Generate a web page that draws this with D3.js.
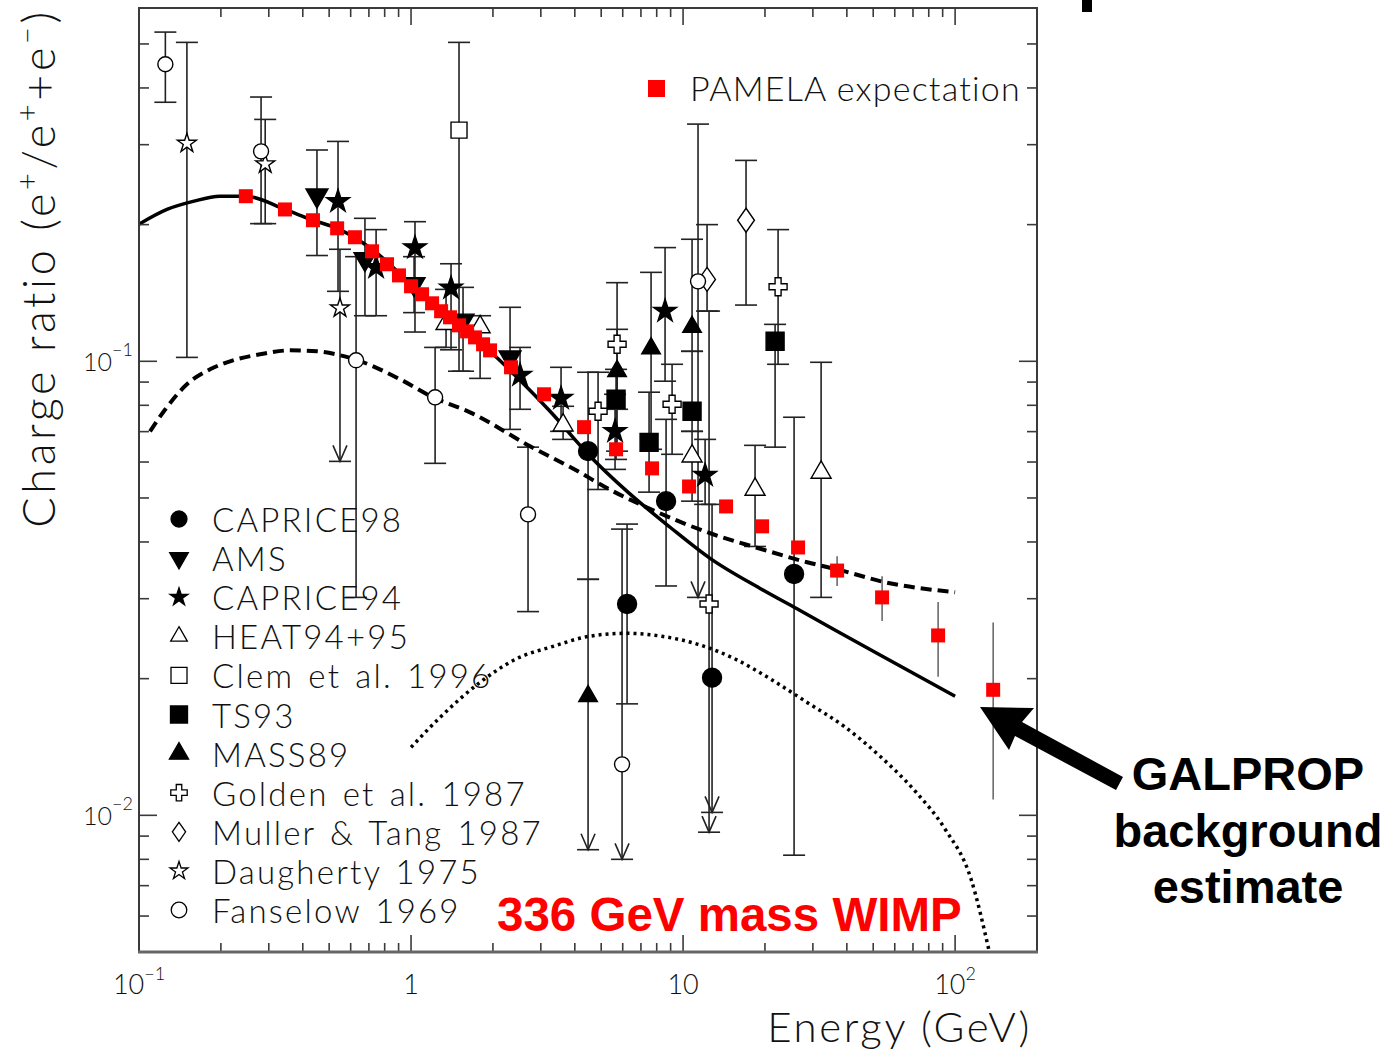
<!DOCTYPE html>
<html>
<head>
<meta charset="utf-8">
<script src="https://cdn.jsdelivr.net/npm/d3@7"></script>
<style>
body { margin: 0; background: #fff; }
.thin { font-family: Lato, "DejaVu Sans", sans-serif; font-weight: 300; fill: #111; }
.bold { font-family: "Liberation Sans", Arial, sans-serif; font-weight: bold; }
</style>
</head>
<body>
<svg id="chart" width="1391" height="1053"></svg>
<script>
// ---- data: [energy GeV, ratio, low, high, lowerLimitArrow]
const caprice98 = [
    [4.475, 0.0634, 0.0331, 0.0946],
    [6.225, 0.0292, 0.0176, 0.0438],
    [8.660, 0.0492, 0.0320, 0.0745],
    [12.78, 0.0201, 0.01015, 0.0484, 1],
    [25.59, 0.0340, 0.00817, 0.0753]
];
const ams = [
    [0.451, 0.232, 0.171, 0.292],
    [0.677, 0.168, 0.126, 0.2065],
    [1.026, 0.148, 0.128, 0.170],
    [1.553, 0.123, 0.0951, 0.1455],
    [2.312, 0.102, 0.0708, 0.1315]
];
const caprice94 = [
    [0.539, 0.225, 0.1426, 0.305],
    [0.744, 0.161, 0.126, 0.195],
    [1.034, 0.178, 0.116, 0.203],
    [1.403, 0.145, 0.106, 0.164],
    [2.516, 0.0932, 0.0784, 0.1073],
    [3.560, 0.0829, 0.0701, 0.0970],
    [5.623, 0.0701, 0.0578, 0.0846],
    [8.586, 0.129, 0.0904, 0.178],
    [12.05, 0.0561, 0.0484, 0.0673]
];
const heat = [
    [1.345, 0.121, 0.1073, 0.144],
    [1.794, 0.119, 0.0917, 0.126],
    [3.622, 0.0723, 0.0673, 0.0796],
    [10.79, 0.0618, 0.0492, 0.0701],
    [18.39, 0.0522, 0.0391, 0.0653],
    [32.17, 0.0569, 0.0302, 0.0995]
];
const clem = [
    [1.501, 0.323, 0.0951, 0.504]
];
const ts93 = [
    [5.671, 0.0825, 0.0608, 0.0960],
    [7.499, 0.0663, 0.0515, 0.0855],
    [10.79, 0.0776, 0.0701, 0.1052],
    [21.79, 0.1107, 0.0647, 0.1206]
];
const mass89 = [
    [4.475, 0.0183, 0.0084, 0.0331, 1],
    [5.720, 0.0951, 0.0634, 0.1176],
    [7.627, 0.1068, 0.0640, 0.157],
    [10.79, 0.119, 0.1052, 0.1857]
];
const golden = [
    [4.870, 0.0776, 0.0522, 0.0946],
    [5.720, 0.109, 0.0784, 0.149],
    [9.112, 0.0804, 0.0624, 0.0985],
    [22.35, 0.146, 0.0985, 0.195],
    [12.46, 0.0292, 0.00918, 0.129, 1]
];
const muller = [
    [17.04, 0.2045, 0.133, 0.277],
    [12.25, 0.1515, 0.129, 0.200]
];
const daugherty = [
    [0.150, 0.302, 0.102, 0.504],
    [0.291, 0.272, 0.201, 0.341],
    [0.548, 0.131, 0.0602, 0.1765, 1]
];
const fanselow = [
    [0.125, 0.451, 0.372, 0.531],
    [0.281, 0.290, 0.201, 0.382],
    [0.628, 0.1005, 0.0302, 0.170],
    [1.226, 0.0833, 0.0596, 0.1073],
    [2.692, 0.0460, 0.0281, 0.0647],
    [5.966, 0.01295, 0.0080, 0.0427, 1],
    [11.35, 0.150, 0.0302, 0.333, 1]
];

// PAMELA expectation
const pamelaE = [0.247, 0.344, 0.436, 0.535, 0.622, 0.719, 0.816, 0.903, 1.00, 1.098, 1.195, 1.290, 1.391, 1.501, 1.607, 1.719, 1.840, 1.952, 2.331, 3.083, 4.325, 5.671, 7.691, 10.52, 14.39, 19.52, 26.47, 36.83, 53.9, 86.6, 138];
const pamelaR = [0.231, 0.216, 0.2045, 0.1963, 0.1876, 0.1747, 0.1636, 0.1546, 0.1463, 0.1405, 0.1342, 0.1289, 0.1250, 0.1200, 0.1164, 0.1129, 0.1090, 0.1057, 0.0970, 0.0846, 0.0716, 0.0640, 0.0581, 0.0530, 0.0479, 0.0433, 0.0389, 0.0346, 0.0302, 0.0249, 0.0189];
const pamelaErr = [[36.83, 0.0320, 0.0372], [53.9, 0.0268, 0.0336], [86.6, 0.0202, 0.0295], [138, 0.01084, 0.0266]];

// GALPROP background (solid)
const bgE = [0.1, 0.1267, 0.158, 0.1985, 0.247, 0.344, 0.436, 0.535, 0.719, 1.00, 1.391, 1.952, 2.516, 3.243, 4.551, 6.225, 8.958, 12.57, 19.19, 26.03, 50.8, 100];
const bgR = [0.2004, 0.216, 0.225, 0.231, 0.231, 0.216, 0.2045, 0.1963, 0.1765, 0.148, 0.125, 0.1052, 0.0908, 0.0776, 0.0618, 0.0517, 0.0431, 0.0368, 0.0316, 0.02857, 0.02286, 0.0183];
// dashed curve
const dashE = [0.1098, 0.125, 0.150, 0.1824, 0.2216, 0.2786, 0.359, 0.451, 0.548, 0.637, 0.911, 1.205, 1.648, 2.739, 4.181, 5.125, 7.627, 12.89, 18.55, 28.57, 39.08, 53.0, 100];
const dashR = [0.0701, 0.0784, 0.0890, 0.0960, 0.1005, 0.1036, 0.1057, 0.1052, 0.1031, 0.1005, 0.0913, 0.0833, 0.0772, 0.0650, 0.0569, 0.0530, 0.0472, 0.0416, 0.0389, 0.0361, 0.0345, 0.0328, 0.0310];
// 336 GeV WIMP (dotted)
const wimpE = [1.00, 1.279, 1.794, 2.432, 3.328, 4.512, 6.121, 8.373, 11.35, 15.53, 21.06, 28.57, 39.08, 53.0, 71.9, 91.9, 114.5, 133.4];
const wimpR = [0.01412, 0.01644, 0.01963, 0.0221, 0.02356, 0.02479, 0.02517, 0.02479, 0.0238, 0.0221, 0.01993, 0.01773, 0.0157, 0.01349, 0.01124, 0.00932, 0.00723, 0.00502];

const legendNames = ['CAPRICE98', 'AMS', 'CAPRICE94', 'HEAT94+95', 'Clem et al. 1996', 'TS93', 'MASS89', 'Golden et al. 1987', 'Muller & Tang 1987', 'Daugherty 1975', 'Fanselow 1969'];
const xTickLabels = [['10', '\u22121'], ['1', ''], ['10', ''], ['10', '2']];
const yTickLabels = [['10', '\u22122'], ['10', '\u22121']];

// ---- setup
const svg = d3.select('#chart');
const x = d3.scaleLog().domain([0.1, 200]).range([139, 1037]);
const y = d3.scaleLog().domain([0.005, 0.6]).range([952, 8]);
const pLeft = 139, pRight = 1037, pTop = 8, pBottom = 952;

const tallDiamond = {
    draw(ctx, size) {
        const h = Math.sqrt(size) * 0.8, w = h * 0.7;
        ctx.moveTo(0, -h); ctx.lineTo(w, 0); ctx.lineTo(0, h); ctx.lineTo(-w, 0); ctx.closePath();
    }
};

// marker styles per series
const styles = {
    caprice98: { type: d3.symbolCircle, size: 283, fill: '#000', ls: 200 },
    ams: { type: d3.symbolTriangle, size: 209, fill: '#000', rot: 180, ls: 150 },
    caprice94: { type: d3.symbolStar, size: 165, fill: '#000', ls: 100 },
    heat: { type: d3.symbolTriangle, size: 173, fill: '#fff', ls: 120 },
    clem: { type: d3.symbolSquare, size: 256, fill: '#fff', ls: 256 },
    ts93: { type: d3.symbolSquare, size: 324, fill: '#000', ls: 290 },
    mass89: { type: d3.symbolTriangle, size: 150, fill: '#000', ls: 160 },
    golden: { type: d3.symbolCross, size: 180, fill: '#fff', ls: 150 },
    muller: { type: tallDiamond, size: 225, fill: '#fff', ls: 140 },
    daugherty: { type: d3.symbolStar, size: 112, fill: '#fff', ls: 100 },
    fanselow: { type: d3.symbolCircle, size: 177, fill: '#fff', ls: 190 }
};
const series = [
    ['caprice98', caprice98], ['ams', ams], ['caprice94', caprice94], ['heat', heat],
    ['clem', clem], ['ts93', ts93], ['mass89', mass89], ['golden', golden],
    ['muller', muller], ['daugherty', daugherty], ['fanselow', fanselow]
];

svg.append('defs').append('clipPath').attr('id', 'plotclip')
    .append('rect').attr('x', pLeft).attr('y', pTop).attr('width', pRight - pLeft).attr('height', pBottom - pTop);

// ---- error bars
const bars = svg.append('g').attr('stroke', '#222').attr('stroke-width', 1.6).attr('fill', 'none');
series.forEach(([name, data]) => {
    data.forEach(d => {
        const cx = x(d[0]), yl = y(d[2]), yh = y(d[3]);
        bars.append('line').attr('x1', cx).attr('x2', cx).attr('y1', yh).attr('y2', yl);
        bars.append('line').attr('x1', cx - 11).attr('x2', cx + 11).attr('y1', yh).attr('y2', yh);
        bars.append('line').attr('x1', cx - 11).attr('x2', cx + 11).attr('y1', yl).attr('y2', yl);
        if (d[4]) {
            bars.append('path').attr('d', `M${cx - 7},${yl - 16}L${cx},${yl}L${cx + 7},${yl - 16}`);
        }
    });
});
pamelaErr.forEach(d => {
    bars.append('line').attr('stroke', '#555').attr('stroke-width', 1.4)
        .attr('x1', x(d[0])).attr('x2', x(d[0])).attr('y1', y(d[2])).attr('y2', y(d[1]));
});

// ---- curves
const line = d3.line().x(d => x(d[0])).y(d => y(d[1])).curve(d3.curveMonotoneX);
const curves = svg.append('g').attr('clip-path', 'url(#plotclip)').attr('fill', 'none').attr('stroke', '#000');
curves.append('path').attr('d', line(d3.zip(bgE, bgR))).attr('stroke-width', 3.5);
curves.append('path').attr('d', line(d3.zip(dashE, dashR))).attr('stroke-width', 4).attr('stroke-dasharray', '11,6');
curves.append('path').attr('d', line(d3.zip(wimpE, wimpR))).attr('stroke-width', 3.5).attr('stroke-dasharray', '3,4');

// ---- markers
const sym = d3.symbol();
const marks = svg.append('g');
series.forEach(([name, data]) => {
    const s = styles[name];
    marks.selectAll(`.m-${name}`).data(data).enter().append('path')
        .attr('class', `m-${name}`)
        .attr('d', sym.type(s.type).size(s.size)())
        .attr('transform', d => `translate(${x(d[0])},${y(d[1])})` + (s.rot ? ` rotate(${s.rot})` : ''))
        .attr('fill', s.fill).attr('stroke', '#000').attr('stroke-width', 1.4);
});

// PAMELA squares
svg.append('g').selectAll('rect').data(d3.zip(pamelaE, pamelaR)).enter().append('rect')
    .attr('x', d => x(d[0]) - 7).attr('y', d => y(d[1]) - 7)
    .attr('width', 14).attr('height', 14).attr('fill', '#f00');

// ---- frame and ticks
const ax = svg.append('g').attr('stroke', '#3a3a3a').attr('stroke-width', 2);
ax.append('rect').attr('x', pLeft).attr('y', pTop).attr('width', pRight - pLeft).attr('height', pBottom - pTop).attr('fill', 'none');
const xMajor = [0.1, 1, 10, 100];
const xMinor = xMajor.flatMap(d => d3.range(2, 10).map(k => k * d)).filter(v => v < 200);
const yMajor = [0.01, 0.1];
const yMinor = [0.001, 0.01, 0.1].flatMap(d => d3.range(2, 10).map(k => k * d)).filter(v => v > 0.005 && v < 0.6);
xMajor.concat(xMinor).forEach(v => {
    const len = xMajor.includes(v) ? 17 : 9;
    if (v <= 0.1) return;
    ax.append('line').attr('stroke-width', 1.6).attr('x1', x(v)).attr('x2', x(v)).attr('y1', pBottom).attr('y2', pBottom - len);
    ax.append('line').attr('stroke-width', 1.6).attr('x1', x(v)).attr('x2', x(v)).attr('y1', pTop).attr('y2', pTop + len);
});
yMajor.concat(yMinor).forEach(v => {
    const len = yMajor.includes(v) ? 18 : 10;
    ax.append('line').attr('stroke-width', 1.6).attr('x1', pLeft).attr('x2', pLeft + len).attr('y1', y(v)).attr('y2', y(v));
    ax.append('line').attr('stroke-width', 1.6).attr('x1', pRight).attr('x2', pRight - len).attr('y1', y(v)).attr('y2', y(v));
});
svg.append('line').attr('x1', pLeft - 1).attr('x2', pRight + 1).attr('y1', pBottom).attr('y2', pBottom)
    .attr('stroke', '#666').attr('stroke-width', 3);

// tick labels
xMajor.forEach((v, i) => {
    const t = svg.append('text').attr('class', 'thin').attr('x', x(v)).attr('y', 994)
        .attr('text-anchor', 'middle').attr('font-size', 27).text(xTickLabels[i][0]);
    if (xTickLabels[i][1]) t.append('tspan').attr('dy', -14).attr('font-size', 18).text(xTickLabels[i][1]);
});
yMajor.forEach((v, i) => {
    const t = svg.append('text').attr('class', 'thin').attr('x', 133).attr('y', y(v) + 10)
        .attr('text-anchor', 'end').attr('font-size', 25).text(yTickLabels[i][0]);
    t.append('tspan').attr('dy', -15).attr('font-size', 18).text(yTickLabels[i][1]);
});

// axis titles
svg.append('text').attr('class', 'thin').attr('x', 1032).attr('y', 1042).attr('text-anchor', 'end')
    .attr('font-size', 42).attr('letter-spacing', 2.6).text('Energy (GeV)');
const yt = svg.append('text').attr('class', 'thin').attr('transform', 'translate(55,268) rotate(-90)')
    .attr('text-anchor', 'middle').attr('font-size', 45).attr('letter-spacing', 3.6);
yt.append('tspan').text('Charge ratio (e');
yt.append('tspan').attr('dy', -17).attr('font-size', 29).text('+');
yt.append('tspan').attr('dy', 17).text('/e');
yt.append('tspan').attr('dy', -17).attr('font-size', 29).text('+');
yt.append('tspan').attr('dy', 17).text('+e');
yt.append('tspan').attr('dy', -17).attr('font-size', 29).text('\u2212');
yt.append('tspan').attr('dy', 17).text(')');

// ---- legend
const lg = svg.append('g');
legendNames.forEach((n, i) => {
    const s = styles[series[i][0]];
    const cy = 519 + i * 39.1;
    lg.append('path').attr('d', d3.symbol().type(s.type).size(s.ls)())
        .attr('transform', `translate(179,${cy})` + (s.rot ? ' rotate(180)' : ''))
        .attr('fill', s.fill).attr('stroke', '#000').attr('stroke-width', 1.3);
    lg.append('text').attr('class', 'thin').attr('x', 212).attr('y', cy + 13)
        .attr('font-size', 33).attr('letter-spacing', 2.2).attr('word-spacing', 3).text(n);
});
svg.append('rect').attr('x', 648).attr('y', 80).attr('width', 17).attr('height', 17).attr('fill', '#f00');
svg.append('text').attr('class', 'thin').attr('x', 690).attr('y', 101).attr('font-size', 34)
    .attr('letter-spacing', 1.2).text('PAMELA expectation');

// ---- annotations
svg.append('text').attr('class', 'bold').attr('x', 497).attr('y', 931).attr('font-size', 47.5)
    .attr('fill', '#f00').text('336 GeV mass WIMP');
const gp = svg.append('text').attr('class', 'bold').attr('text-anchor', 'middle').attr('font-size', 47).attr('fill', '#000');
[['GALPROP', 790], ['background', 847], ['estimate', 903]].forEach(([t, by]) => {
    gp.append('tspan').attr('x', 1248).attr('y', by).text(t);
});
svg.append('path').attr('fill', '#000')
    .attr('d', 'M980,707 L1034,708 L1022,722 L1123,777 L1116,790 L1015,736 L1009,750 Z');
svg.append('rect').attr('x', 1082).attr('y', 0).attr('width', 10).attr('height', 12).attr('fill', '#000');
</script>
</body>
</html>
